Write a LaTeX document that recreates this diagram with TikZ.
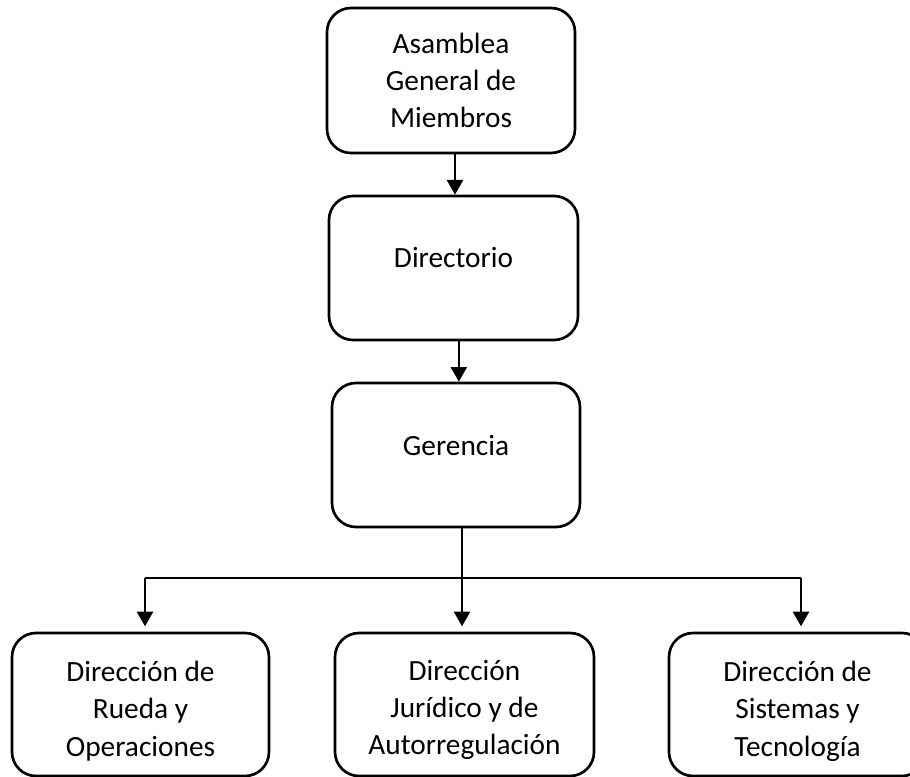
\documentclass[tikz,border=0pt]{standalone}
\usepackage{fontspec}
\setmainfont{Carlito}
\usetikzlibrary{arrows.meta}
\tikzset{
  box/.style={draw, line width=2pt, rounded corners=18pt, align=center, inner sep=0pt,
    font=\fontsize{22pt}{28pt}\selectfont, fill=white},
  txt/.style={align=center, inner sep=0pt, font=\fontsize{22pt}{28pt}\selectfont},
  arr/.style={line width=1.8pt, -{Triangle[width=12pt,length=11pt]}},
  thin/.style={line width=0.8pt},
}
\begin{document}
\begin{tikzpicture}[x=0.75pt,y=-0.75pt]
\useasboundingbox (0,0) rectangle (910,777);
\node[box, minimum width=186pt, minimum height=108.75pt] (b1) at (451,80.5)
  {Asamblea\\General de\\Miembros};
\node[box, minimum width=186.75pt, minimum height=108pt,
  label={[txt, yshift=8pt, name=t2]center:Directorio}] (b2) at (453.5,268) {};
\node[box, minimum width=186pt, minimum height=108pt,
  label={[txt, yshift=7pt, name=t3]center:Gerencia}] (b3) at (456,455) {};
\node[box, minimum width=192.75pt, minimum height=107.25pt,
  label={[txt, yshift=-5pt, name=t4]center:Dirección de\\Rueda y\\Operaciones}] (b4) at (140.5,704.5) {};
\node[box, minimum width=194.25pt, minimum height=107.25pt,
  label={[txt, yshift=-4pt, name=t5]center:Dirección\\Jurídico y de\\Autorregulación}] (b5) at (464.5,704.5) {};
\node[box, minimum width=192.75pt, minimum height=107.25pt,
  label={[txt, yshift=-5pt, name=t6]center:Dirección de\\Sistemas y\\Tecnología}] (b6) at (797.5,704.5) {};
\coordinate (jc) at (462,578);
\coordinate (jl) at (145,578);
\coordinate (jr) at (801,578);
\draw[arr] ([xshift=3pt]b1.south) -- ([xshift=3pt]b1.south |- b2.north);
\draw[arr] ([xshift=4pt]b2.south) -- ([xshift=4pt]b2.south |- b3.north);
\draw[thin] (jc |- b3.south) -- (jc);
\draw[thin] (jl) -- (jr);
\draw[arr, shorten >=4pt] (jl) -- (jl |- b4.north);
\draw[arr, shorten >=4pt] (jc) -- (jc |- b5.north);
\draw[arr, shorten >=4pt] (jr) -- (jr |- b6.north);
\end{tikzpicture}
\end{document}
